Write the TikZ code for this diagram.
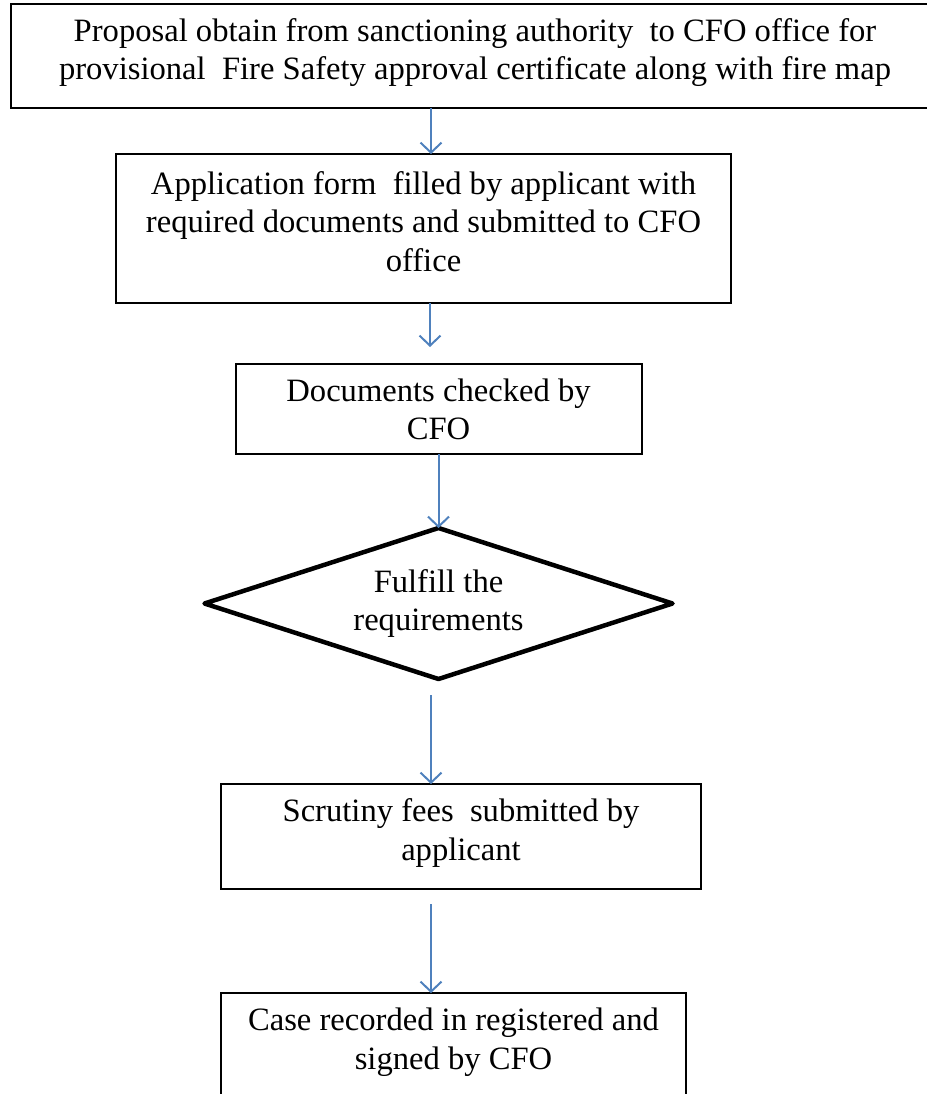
\documentclass[tikz,border=0pt]{standalone}
\usepackage{fontspec}
\setmainfont{Liberation Serif}
\usepackage{tikz}
\usetikzlibrary{positioning,arrows.meta,shapes.geometric}
\definecolor{flowblue}{RGB}{79,129,189}

\begin{document}
\begin{tikzpicture}[font=\fontsize{32.6}{38.5}\selectfont]
    \tikzstyle{box}=[draw, line width=2pt, align=center, inner sep=0pt, outer sep=0pt, text depth=14pt]
    \tikzstyle{decision}=[draw, diamond, aspect=3.1, line width=4.5pt, line join=round, align=center, inner sep=3pt, outer sep=0pt, minimum width=468pt, minimum height=151pt]
    \tikzstyle{flow}=[line width=2pt, draw=flowblue, -{Straight Barb[length=10pt,width=21pt]}]
    \useasboundingbox (0,0) rectangle (926pt,-1094pt);

    \node[box, minimum width=929pt, minimum height=104pt] (proposal) at (475pt,-56pt) {Proposal obtain from sanctioning authority~ to CFO office for\\provisional~ Fire Safety approval certificate along with fire map};
    \node[box, minimum width=615pt, minimum height=149pt, below=46pt of proposal, xshift=-51.5pt] (application) {Application form~ filled by applicant with\\required documents and submitted to CFO\\office};
    \node[box, text depth=0pt, minimum width=406pt, minimum height=90pt, below=61pt of application, xshift=15pt] (documents) {Documents checked by\\CFO};
    \node[decision, below=74pt of documents] (fulfill) {Fulfill the\\requirements};
    \node[box, minimum width=480pt, minimum height=105pt, below=105pt of fulfill, xshift=22.5pt] (fees) {Scrutiny fees~ submitted by\\applicant};
    \node[box, minimum width=465pt, minimum height=105pt, below=104pt of fees, xshift=-7.5pt] (record) {Case recorded in registered and\\signed by CFO};

    \draw[flow] ([xshift=-44pt]proposal.south) -- ([xshift=7.5pt]application.north);
    \draw[flow] ([xshift=6.5pt]application.south) -- ([xshift=-8.5pt,yshift=17pt]documents.north);
    \draw[flow] (documents.south) -- (fulfill.north);
    \draw[flow] ([xshift=-7.5pt,yshift=-16pt]fulfill.south) -- ([xshift=-30pt]fees.north);
    \draw[flow] ([xshift=-30pt,yshift=-15pt]fees.south) -- ([xshift=-22.5pt]record.north);
\end{tikzpicture}
\end{document}
